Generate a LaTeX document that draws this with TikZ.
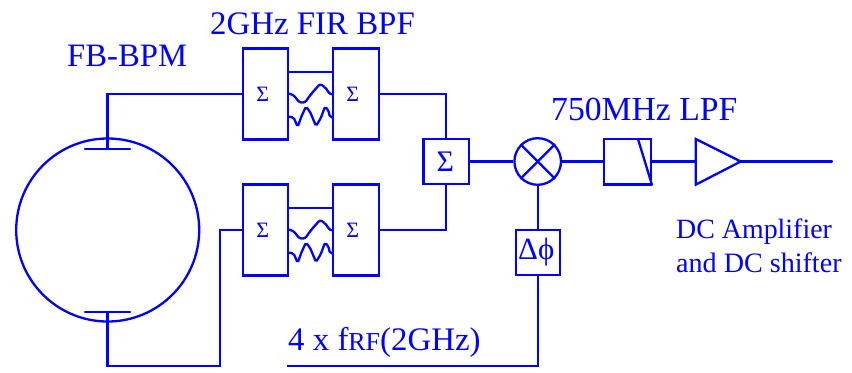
\documentclass[tikz,border=0pt]{standalone}
\usepackage{fontspec}
\setmainfont{Liberation Serif}
\definecolor{bl}{RGB}{0,0,255}
\tikzset{
  wire/.style={draw=bl,line width=2.3bp,line join=miter},
  blockbox/.style={draw=bl,line width=2.3bp,rectangle,inner sep=0pt,text=bl,minimum width=#1},
  lab/.style={text=bl,inner sep=0pt,anchor=base west,font=\fontsize{#1}{#1}\selectfont},
}
\begin{document}
\begin{tikzpicture}[x=1bp,y=-1bp]
\useasboundingbox (0,0) rectangle (852,372);
\fill[white] (0,0) rectangle (852,372);
% pickup
\node[draw=bl,line width=2.3bp,circle,inner sep=0pt,minimum size=183bp] (bpm) at (107.7,230) {};
\coordinate (pt) at (107.5,149);
\coordinate (pb) at (107.5,312);
\coordinate (ptl) at (85,149);\coordinate (ptr) at (130,149);
\coordinate (pbl) at (85,312);\coordinate (pbr) at (130,312);
\draw[wire,line cap=round] (ptl) -- (ptr);
\draw[wire,line cap=round] (pbl) -- (pbr);
% filter blocks
\foreach \n/\oy in {a/0,b/136}{
  \begin{scope}[yshift=-\oy bp]
  \node[blockbox=45bp,minimum height=91bp,font=\fontsize{22}{22}\selectfont] (\n l) at (265.8,94) {\kern-6bp Σ};
  \node[blockbox=46.3bp,minimum height=91bp,font=\fontsize{22}{22}\selectfont] (\n r) at (355.8,94) {\kern-6bp Σ};
  \coordinate (\n lk) at (288.3,72);
  \coordinate (\n rk) at (332.7,72);
  \draw[wire] (\n lk) -- (\n rk);
  \draw[wire,rounded corners=2.2bp]
     (288.3,93.5) -- (293.5,95) -- (299.5,102.5) -- (305,102.5) -- (311.5,93.5) -- (320,84) -- (325,87) -- (330,94.3) -- (332.7,94.3);
  \draw[wire,rounded corners=1.8bp]
     (288.3,116.7) -- (293.5,117.3) -- (297.7,126.7) -- (302,115) -- (306,106.7) -- (310,111.7) -- (316,126) -- (320.7,118.3) -- (325,106.7) -- (328.3,110) -- (330,117.3) -- (332.7,117.3);
  \end{scope}
}
\node[blockbox=45.7bp,minimum height=45bp,font=\fontsize{30}{30}\selectfont] (sum) at (446.2,161.5) {\kern-2bp Σ};
\node[draw=bl,line width=2.3bp,circle,inner sep=0pt,minimum size=46.6bp] (mix) at (537.7,161.5) {};
\draw[wire] (mix.north west) -- (mix.south east);
\draw[wire] (mix.north east) -- (mix.south west);
\node[blockbox=44bp,minimum height=45bp,font=\fontsize{31}{31}\selectfont] (ph) at (537.7,252.5) {\kern-3bp Δϕ};
\node[blockbox=47bp,minimum height=45.7bp] (lpf) at (627.5,161.5) {};
\draw[wire,line join=bevel] (638,139) -- (lpf.south east);
\coordinate (t1) at (695.7,139);
\coordinate (t2) at (695.7,184.7);
\coordinate (t3) at (740.7,161.5);
\draw[wire] (t1) -- (t3) -- (t2) -- cycle;
\coordinate (tin) at (695.7,161.5);
\coordinate (outp) at (832,161.5);
\coordinate (rfin) at (287,365.7);
% wiring
\draw[wire] (pt) |- (al.west);
\draw[wire] (pb) -- (107.5,366) -- (220,366) |- (bl.west);
\draw[wire] (ar.east) -| (sum.north);
\draw[wire] (br.east) -| (sum.south);
\draw[wire] (sum.east) -- (mix.west);
\draw[wire] (mix.south) -- (ph.north);
\draw[wire] (rfin) -| (ph.south);
\draw[wire] (mix.east) -- (lpf.west);
\draw[wire] (lpf.east) -- (tin);
\draw[wire,line cap=round] (t3) -- (outp);
% labels
\node[lab=32.8] (l1) at (67,66) {FB-BPM};
\node[lab=33] (l2) at (210,34) {2GHz FIR BPF};
\node[lab=33.8] (l3) at (551,120) {750MHz LPF};
\node[lab=28] (l4) at (676,238) {DC Amplifier};
\node[lab=28.2] (l5) at (676,272) {and DC shifter};
\node[lab=33] (l6) at (288,350) {4 x f{\fontsize{26}{26}\selectfont RF}(2GHz)};
\end{tikzpicture}
\end{document}
